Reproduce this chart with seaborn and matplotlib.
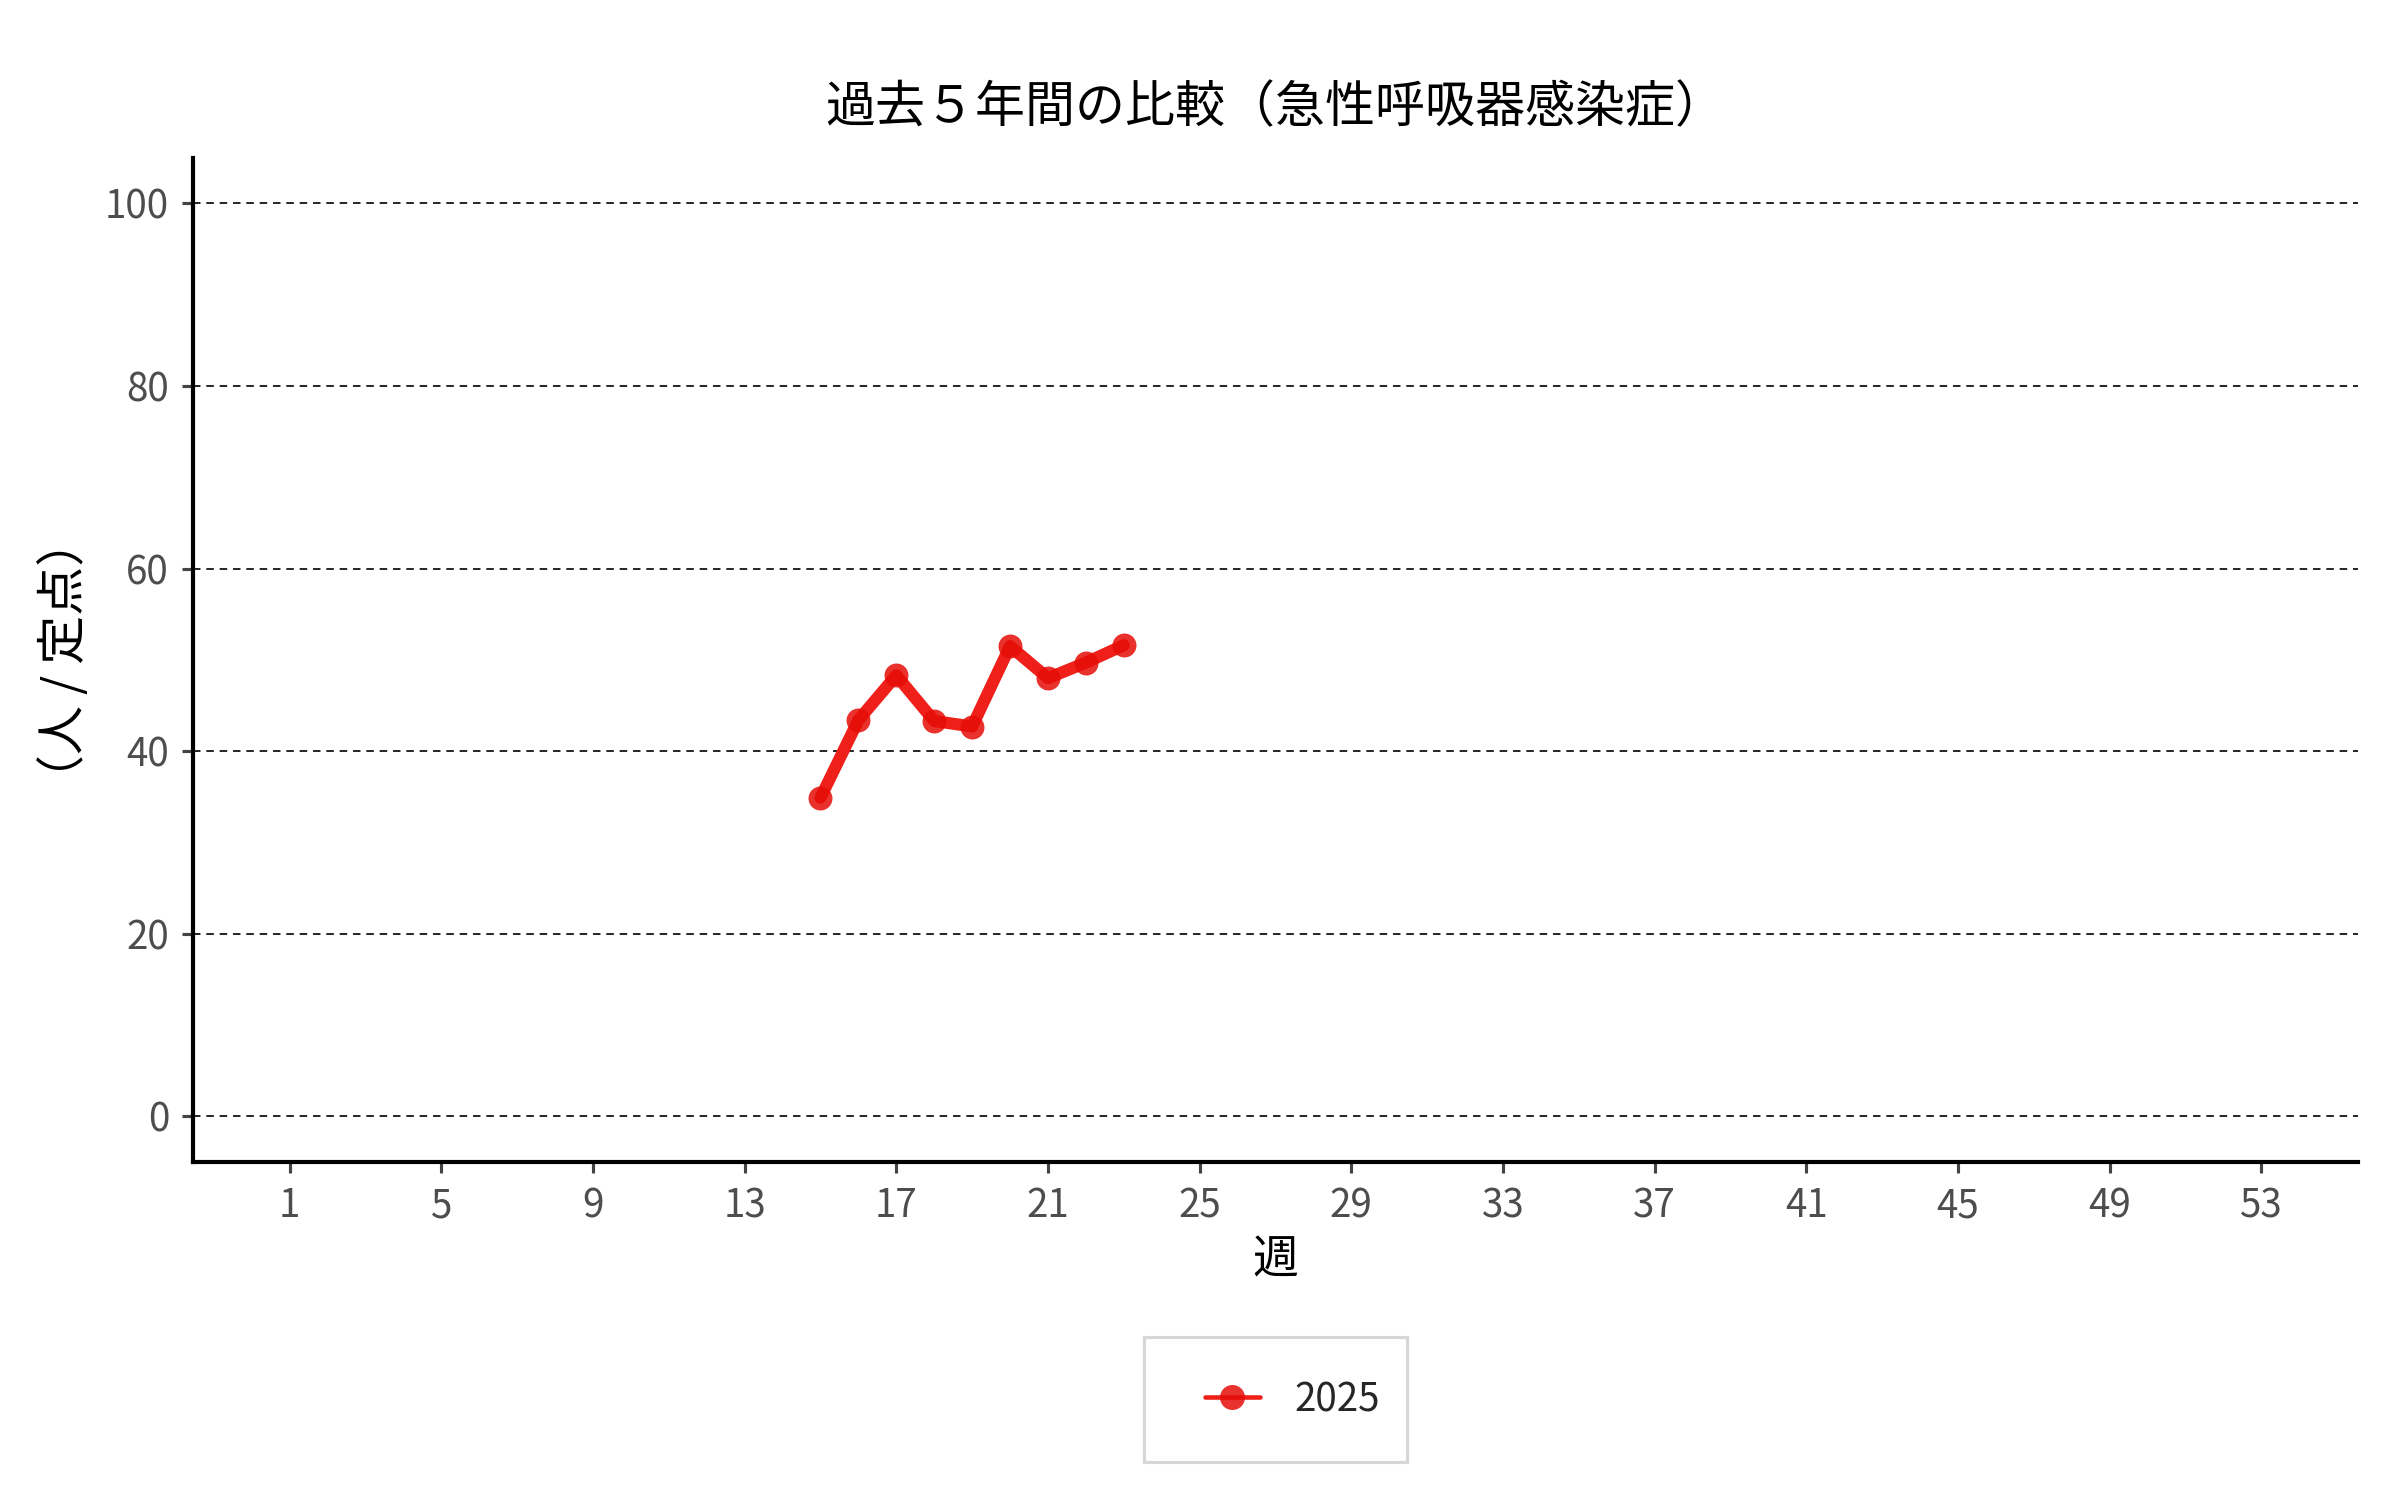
import numpy as np
import pandas as pd
import matplotlib
matplotlib.use('Agg')
import matplotlib.pyplot as plt
import seaborn as sns

# data
weeks = [15, 16, 17, 18, 19, 20, 21, 22, 23]
values_2025 = [34.9, 43.4, 48.3, 43.3, 42.7, 51.5, 48.0, 49.7, 51.6]
years = ['2025'] * len(weeks)
year_colors = {'2025': '#EE2019'}

x_ticks = list(range(1, 54, 4))
y_ticks = [0, 20, 40, 60, 80, 100]

title = '過去５年間の比較（急性呼吸器感染症）'
x_label = '週'
y_label = '（人 / 定点）'

sns.set_theme(style='white')
plt.rcParams['font.family'] = ['Noto Sans CJK JP', 'DejaVu Sans']

df = pd.DataFrame({'週': weeks, '値': values_2025, '年': years})

fig = plt.figure(figsize=(16, 10), dpi=150)
ax = fig.add_axes([0.0804, 0.2253, 0.9825 - 0.0804, 0.8949 - 0.2253])

for y in y_ticks:
    ax.axhline(y, color='black', linewidth=0.8, linestyle=(0, (4.5, 3.5)), zorder=0)

sns.lineplot(
    data=df, x='週', y='値', hue='年',
    palette=year_colors,
    linewidth=5.8,
    marker='o', markersize=11.5, markeredgewidth=0,
    ax=ax,
)
for line in ax.get_lines():
    if line.get_marker() == 'o':
        line.set_markerfacecolor((0.90, 0.05, 0.03, 0.85))

ax.set_xlim(-1.55, 55.55)
ax.set_ylim(-5, 105)
ax.set_xticks(x_ticks)
ax.set_yticks(y_ticks)
ax.tick_params(axis='both', colors='#444444', labelcolor='#4D4D4D',
               labelsize=18.5, length=5.5, width=1.5, direction='out',
               bottom=True, left=True, pad=6)

for side in ['top', 'right']:
    ax.spines[side].set_visible(False)
for side in ['left', 'bottom']:
    ax.spines[side].set_color('black')
    ax.spines[side].set_linewidth(2.0)

ax.set_title(title, fontsize=24, color='black', pad=17)
ax.set_xlabel(x_label, fontsize=22, color='black', labelpad=5)
ax.set_ylabel(y_label, fontsize=23.5, color='black', labelpad=7)

ax.get_legend().remove()
handles, labels = ax.get_legend_handles_labels()
leg = fig.legend(
    handles, labels,
    loc='center', bbox_to_anchor=(0.5314, 0.0672),
    frameon=True, fancybox=False, fontsize=18.5,
    borderpad=0.7, handlelength=2.3, handletextpad=0.9,
    handleheight=2.45,
    borderaxespad=0, edgecolor='#CCCCCC',
)
leg.get_frame().set_linewidth(1.5)
for h in leg.legend_handles:
    h.set_linewidth(2.2)
    h.set_markersize(12)
    # keep the key line on the right part of the key box, level with the text
    xd = np.asarray(h.get_xdata(), dtype=float)
    yd = np.asarray(h.get_ydata(), dtype=float)
    span = xd[-1] - xd[0]
    h.set_xdata(np.linspace(xd[0] + 0.38 * span, xd[-1], len(xd)))
    h.set_ydata(yd - 4.5)

fig.savefig('out.png', dpi=150, facecolor='white')
